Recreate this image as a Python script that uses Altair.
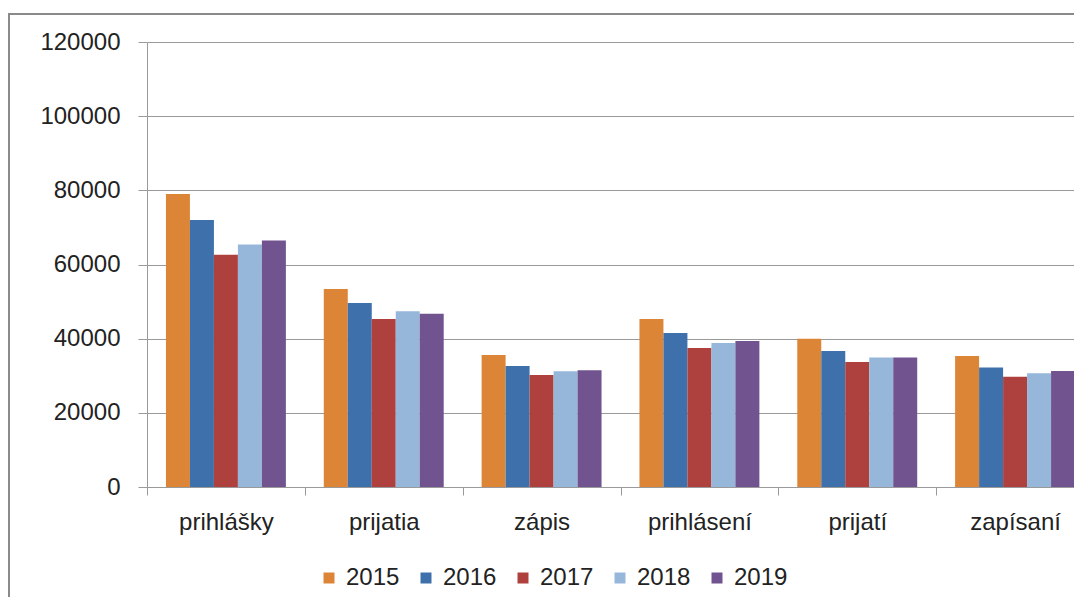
import altair as alt
import pandas as pd

categories = ["prihlášky", "prijatia", "zápis", "prihlásení", "prijatí", "zapísaní"]
years = ["2015", "2016", "2017", "2018", "2019"]
v2015 = [79000, 53400, 35600, 45300, 40000, 35300]
v2016 = [72000, 49600, 32600, 41500, 36700, 32200]
v2017 = [62600, 45300, 30200, 37500, 33700, 29700]
v2018 = [65400, 47400, 31200, 38800, 34900, 30700]
v2019 = [66500, 46700, 31500, 39400, 34900, 31300]
y_ticks = [0, 20000, 40000, 60000, 80000, 100000, 120000]
colors = ["#DD8537", "#3E70AC", "#AE403E", "#96B7DA", "#71548F"]

series = [v2015, v2016, v2017, v2018, v2019]
rows = []
for yr, vals in zip(years, series):
    for c, v in zip(categories, vals):
        rows.append({"category": c, "year": yr, "value": v})
df = pd.DataFrame(rows)

FONT = "Liberation Sans"
TXT = "#222222"

bars = alt.Chart(df).mark_bar().encode(
    x=alt.X(
        "category:N",
        sort=categories,
        scale=alt.Scale(range=[0, 947], paddingInner=0, paddingOuter=0),
        axis=alt.Axis(
            title=None, labelAngle=0, tickBand="extent", grid=False,
            domainColor="#9a9a9a", tickColor="#9a9a9a", tickSize=8,
            labelFontSize=24, labelFont=FONT, labelColor=TXT, labelPadding=15,
        ),
    ),
    xOffset=alt.XOffset("year:N", sort=years,
                        scale=alt.Scale(paddingInner=0, paddingOuter=0.79)),
    y=alt.Y(
        "value:Q",
        scale=alt.Scale(domain=[0, 120000], nice=False),
        axis=alt.Axis(
            title=None, values=y_ticks, format="d", tickSize=9, labelPadding=18,
            gridColor="#9a9a9a", domainColor="#9a9a9a", tickColor="#9a9a9a",
            labelFontSize=24, labelFont=FONT, labelColor=TXT,
        ),
    ),
    color=alt.Color(
        "year:N",
        sort=years,
        scale=alt.Scale(domain=years, range=colors),
        legend=alt.Legend(
            title=None, orient="none", direction="horizontal", columns=5,
            legendX=170, legendY=524, symbolType="square", symbolSize=121,
            symbolStrokeWidth=0, labelFontSize=24, labelFont=FONT,
            labelColor=TXT, labelOffset=5, columnPadding=14,
        ),
    ),
)

frame = alt.Chart(pd.DataFrame({"a": [0]})).mark_rect(
    fillOpacity=0, stroke="#8a8a8a", strokeWidth=2
).encode(
    x=alt.value(-138), x2=alt.value(2000), y=alt.value(-28), y2=alt.value(2000)
)

chart = alt.layer(frame, bars).properties(
    width=927,
    height=445,
    autosize=alt.AutoSizeParams(type="none"),
    padding={"left": 139, "top": 34, "right": 0, "bottom": 110},
    background="white",
).configure_view(stroke=None)

chart.save("out.html", embed_options={"renderer": "svg", "actions": False})
